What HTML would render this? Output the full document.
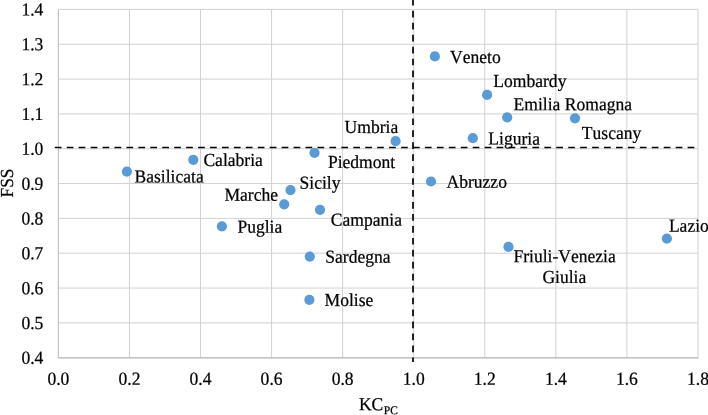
<!DOCTYPE html>
<html><head><meta charset="utf-8"><title>Chart</title>
<style>
html,body{margin:0;padding:0;background:#fff;}
body{width:708px;height:415px;overflow:hidden;}
svg{display:block;will-change:transform;}
text{font-family:"Liberation Serif",serif;font-size:17.33px;fill:#000;stroke:#000;stroke-width:0.22px;font-kerning:none;text-rendering:geometricPrecision;}
</style></head><body>
<svg width="708" height="415" viewBox="0 0 708 415">
<rect x="0" y="0" width="708" height="415" fill="#ffffff"/>

<g stroke="#d1d1d1" stroke-width="1" fill="none">
<line x1="58.39" y1="9.43" x2="58.39" y2="357.70"/>
<line x1="129.46" y1="9.43" x2="129.46" y2="357.70"/>
<line x1="200.52" y1="9.43" x2="200.52" y2="357.70"/>
<line x1="271.59" y1="9.43" x2="271.59" y2="357.70"/>
<line x1="342.65" y1="9.43" x2="342.65" y2="357.70"/>
<line x1="413.72" y1="9.43" x2="413.72" y2="357.70"/>
<line x1="484.78" y1="9.43" x2="484.78" y2="357.70"/>
<line x1="555.85" y1="9.43" x2="555.85" y2="357.70"/>
<line x1="626.91" y1="9.43" x2="626.91" y2="357.70"/>
<line x1="697.98" y1="9.43" x2="697.98" y2="357.70"/>
<line x1="58.39" y1="9.43" x2="697.98" y2="9.43"/>
<line x1="58.39" y1="44.26" x2="697.98" y2="44.26"/>
<line x1="58.39" y1="79.08" x2="697.98" y2="79.08"/>
<line x1="58.39" y1="113.91" x2="697.98" y2="113.91"/>
<line x1="58.39" y1="148.74" x2="697.98" y2="148.74"/>
<line x1="58.39" y1="183.56" x2="697.98" y2="183.56"/>
<line x1="58.39" y1="218.39" x2="697.98" y2="218.39"/>
<line x1="58.39" y1="253.22" x2="697.98" y2="253.22"/>
<line x1="58.39" y1="288.05" x2="697.98" y2="288.05"/>
<line x1="58.39" y1="322.87" x2="697.98" y2="322.87"/>
<line x1="58.39" y1="357.70" x2="697.98" y2="357.70"/>
</g>
<g stroke="#c2c2c2" stroke-width="1" fill="none">
<line x1="58.39" y1="9.43" x2="58.39" y2="357.70"/>
<line x1="57.89" y1="357.70" x2="698.48" y2="357.70" stroke-width="1.5"/>
</g>
<text transform="translate(43.40,15.53) matrix(1.013,0.001,0,1.06,0,0)" text-anchor="end">1.4</text>
<text transform="translate(43.40,50.36) matrix(1.013,0.001,0,1.06,0,0)" text-anchor="end">1.3</text>
<text transform="translate(43.40,85.18) matrix(1.013,0.001,0,1.06,0,0)" text-anchor="end">1.2</text>
<text transform="translate(43.40,120.01) matrix(1.013,0.001,0,1.06,0,0)" text-anchor="end">1.1</text>
<text transform="translate(43.40,154.84) matrix(1.013,0.001,0,1.06,0,0)" text-anchor="end">1.0</text>
<text transform="translate(43.40,189.66) matrix(1.013,0.001,0,1.06,0,0)" text-anchor="end">0.9</text>
<text transform="translate(43.40,224.49) matrix(1.013,0.001,0,1.06,0,0)" text-anchor="end">0.8</text>
<text transform="translate(43.40,259.32) matrix(1.013,0.001,0,1.06,0,0)" text-anchor="end">0.7</text>
<text transform="translate(43.40,294.15) matrix(1.013,0.001,0,1.06,0,0)" text-anchor="end">0.6</text>
<text transform="translate(43.40,328.97) matrix(1.013,0.001,0,1.06,0,0)" text-anchor="end">0.5</text>
<text transform="translate(43.40,363.80) matrix(1.013,0.001,0,1.06,0,0)" text-anchor="end">0.4</text>
<text transform="translate(58.39,384.70) matrix(1.013,0.001,0,1.06,0,0)" text-anchor="middle">0.0</text>
<text transform="translate(129.46,384.70) matrix(1.013,0.001,0,1.06,0,0)" text-anchor="middle">0.2</text>
<text transform="translate(200.52,384.70) matrix(1.013,0.001,0,1.06,0,0)" text-anchor="middle">0.4</text>
<text transform="translate(271.59,384.70) matrix(1.013,0.001,0,1.06,0,0)" text-anchor="middle">0.6</text>
<text transform="translate(342.65,384.70) matrix(1.013,0.001,0,1.06,0,0)" text-anchor="middle">0.8</text>
<text transform="translate(413.72,384.70) matrix(1.013,0.001,0,1.06,0,0)" text-anchor="middle">1.0</text>
<text transform="translate(484.78,384.70) matrix(1.013,0.001,0,1.06,0,0)" text-anchor="middle">1.2</text>
<text transform="translate(555.85,384.70) matrix(1.013,0.001,0,1.06,0,0)" text-anchor="middle">1.4</text>
<text transform="translate(626.91,384.70) matrix(1.013,0.001,0,1.06,0,0)" text-anchor="middle">1.6</text>
<text transform="translate(697.98,384.70) matrix(1.013,0.001,0,1.06,0,0)" text-anchor="middle">1.8</text>
<text transform="translate(13.0,183.0) rotate(-90) scale(1.005,1.06)" text-anchor="middle">FSS</text>
<text transform="translate(358.90,410.30) matrix(1.013,0.001,0,1.06,0,0)">KC<tspan font-size="11.3px" dy="3.7" dx="0.5">PC</tspan></text>
<line x1="54.8" y1="147.5" x2="695" y2="147.5" stroke="#000" stroke-width="1.7" stroke-dasharray="6.7 5.24"/>
<line x1="413" y1="0" x2="413" y2="362" stroke="#000" stroke-width="1.7" stroke-dasharray="6.7 5.25" stroke-dashoffset="1.1"/>
<g fill="#5b9bd5">
<circle cx="126.9" cy="171.6" r="5.1"/>
<circle cx="193.3" cy="159.8" r="5.1"/>
<circle cx="221.9" cy="226.4" r="5.1"/>
<circle cx="395.6" cy="141.2" r="5.1"/>
<circle cx="314.5" cy="152.8" r="5.1"/>
<circle cx="290.5" cy="190.1" r="5.1"/>
<circle cx="284.2" cy="204.3" r="5.1"/>
<circle cx="320.0" cy="209.8" r="5.1"/>
<circle cx="309.8" cy="256.6" r="5.1"/>
<circle cx="309.4" cy="299.8" r="5.1"/>
<circle cx="434.9" cy="56.4" r="5.1"/>
<circle cx="487.1" cy="94.9" r="5.1"/>
<circle cx="507.2" cy="117.4" r="5.1"/>
<circle cx="575.0" cy="118.3" r="5.1"/>
<circle cx="472.8" cy="138.2" r="5.1"/>
<circle cx="431.0" cy="181.5" r="5.1"/>
<circle cx="508.5" cy="246.8" r="5.1"/>
<circle cx="666.9" cy="238.6" r="5.1"/>
</g>
<text transform="translate(134.50,182.50) matrix(1.013,0.001,0,1.06,0,0)">Basilicata</text>
<text transform="translate(203.40,166.00) matrix(1.013,0.001,0,1.06,0,0)">Calabria</text>
<text transform="translate(237.40,232.70) matrix(1.013,0.001,0,1.06,0,0)">Puglia</text>
<text transform="translate(344.60,133.00) matrix(1.013,0.001,0,1.06,0,0)">Umbria</text>
<text transform="translate(327.90,168.00) matrix(1.013,0.001,0,1.06,0,0)">Piedmont</text>
<text transform="translate(299.50,188.70) matrix(1.013,0.001,0,1.06,0,0)">Sicily</text>
<text transform="translate(224.40,200.70) matrix(1.013,0.001,0,1.06,0,0)">Marche</text>
<text transform="translate(330.80,225.70) matrix(1.013,0.001,0,1.06,0,0)">Campania</text>
<text transform="translate(325.30,262.70) matrix(1.013,0.001,0,1.06,0,0)">Sardegna</text>
<text transform="translate(324.60,306.00) matrix(1.013,0.001,0,1.06,0,0)">Molise</text>
<text transform="translate(450.00,63.00) matrix(1.013,0.001,0,1.06,0,0)">Veneto</text>
<text transform="translate(493.30,87.00) matrix(1.013,0.001,0,1.06,0,0)">Lombardy</text>
<text transform="translate(513.60,110.20) matrix(1.013,0.001,0,1.06,0,0)">Emilia Romagna</text>
<text transform="translate(581.80,138.90) matrix(1.013,0.001,0,1.06,0,0)">Tuscany</text>
<text transform="translate(488.30,144.60) matrix(1.013,0.001,0,1.06,0,0)">Liguria</text>
<text transform="translate(446.50,187.80) matrix(1.013,0.001,0,1.06,0,0)">Abruzzo</text>
<text transform="translate(513.40,262.20) matrix(1.013,0.001,0,1.06,0,0)">Friuli-Venezia</text>
<text transform="translate(668.90,231.80) matrix(1.013,0.001,0,1.06,0,0)">Lazio</text>
<text transform="translate(542.40,283.00) matrix(1.013,0.001,0,1.06,0,0)">Giulia</text>
</svg></body></html>
